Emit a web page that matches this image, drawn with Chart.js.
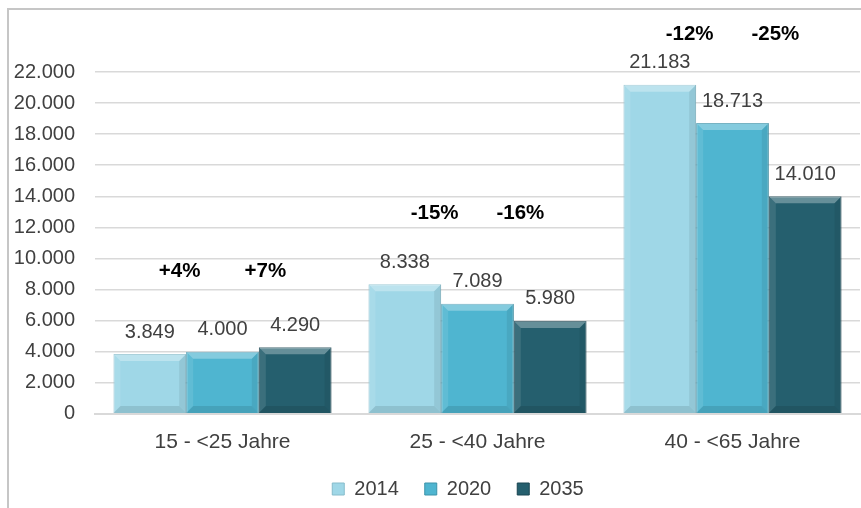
<!DOCTYPE html>
<html>
<head>
<meta charset="utf-8">
<script src="https://cdn.jsdelivr.net/npm/chart.js@4.4.1/dist/chart.umd.min.js"></script>
<style>
  html, body { margin: 0; padding: 0; background: #fff; }
  #wrap { position: relative; width: 861px; height: 508px; overflow: hidden; }
  #frame { position: absolute; left: 7px; top: 8px; width: 900px; height: 600px;
           border-left: 2px solid #c6c6c6; border-top: 2px solid #c6c6c6; }
  canvas { position: absolute; left: 0; top: 0; }
</style>
</head>
<body>
<div id="wrap">
  <div id="frame"></div>
  <canvas id="chart" width="861" height="531"></canvas>
</div>
<script>
// data
const categories = ["15 - <25 Jahre", "25 - <40 Jahre", "40 - <65 Jahre"];
const years = ["2014", "2020", "2035"];
const values2014 = [3849, 8338, 21183];
const values2020 = [4000, 7089, 18713];
const values2035 = [4290, 5980, 14010];
const change2020 = ["+4%", "-15%", "-12%"];
const change2035 = ["+7%", "-16%", "-25%"];
const changeLevel = [9200, 12900, 24400];   // where the % labels sit (value units)
const yTicks = [0, 2000, 4000, 6000, 8000, 10000, 12000, 14000, 16000, 18000, 20000, 22000];

const colors = ["#9fd7e7", "#4fb5d0", "#255f6e"];
const FONT = "'Liberation Sans', Arial, sans-serif";

function fmt(v) {
  return String(v).replace(/\B(?=(\d{3})+(?!\d))/g, ".");
}

// move the legend a bit (labels.padding also sets the gap between items)
const legendShift = {
  id: 'legendShift',
  afterLayout(chart) {
    const lg = chart.legend;
    lg.top -= 18; lg.bottom -= 18;
    lg.left += 23; lg.right += 23;
  }
};

// bevelled look of the bars + labels
const bevelPlugin = {
  id: 'bevel',
  afterDatasetsDraw(chart) {
    const ctx = chart.ctx;
    chart.data.datasets.forEach((ds, di) => {
      chart.getDatasetMeta(di).data.forEach((bar) => {
        const w = bar.width, l = bar.x - w / 2, r = bar.x + w / 2;
        const t = bar.y, b = bar.base, k = 7;
        ctx.save();
        ctx.fillStyle = 'rgba(255,255,255,0.30)';
        ctx.beginPath();
        ctx.moveTo(l, t); ctx.lineTo(r, t); ctx.lineTo(r - k, t + k); ctx.lineTo(l + k, t + k);
        ctx.closePath(); ctx.fill();
        ctx.fillStyle = 'rgba(255,255,255,0.10)';
        ctx.beginPath();
        ctx.moveTo(l, t); ctx.lineTo(l + k, t + k); ctx.lineTo(l + k, b - k); ctx.lineTo(l, b);
        ctx.closePath(); ctx.fill();
        ctx.fillStyle = 'rgba(0,0,0,0.07)';
        ctx.beginPath();
        ctx.moveTo(r, t); ctx.lineTo(r - k, t + k); ctx.lineTo(r - k, b - k); ctx.lineTo(r, b);
        ctx.closePath(); ctx.fill();
        ctx.fillStyle = 'rgba(0,0,0,0.10)';
        ctx.beginPath();
        ctx.moveTo(l, b); ctx.lineTo(l + k, b - k); ctx.lineTo(r - k, b - k); ctx.lineTo(r, b);
        ctx.closePath(); ctx.fill();
        ctx.restore();
      });
    });

    // value labels
    ctx.save();
    ctx.font = '20px ' + FONT;
    ctx.fillStyle = '#404040';
    ctx.textAlign = 'center';
    ctx.textBaseline = 'middle';
    chart.data.datasets.forEach((ds, di) => {
      chart.getDatasetMeta(di).data.forEach((bar, i) => {
        ctx.fillText(fmt(ds.data[i]), bar.x, bar.y - 22);
      });
    });

    // change labels
    const ys = chart.scales.y;
    ctx.font = 'bold 20.5px ' + FONT;
    ctx.fillStyle = '#000';
    const m1 = chart.getDatasetMeta(1).data, m2 = chart.getDatasetMeta(2).data;
    categories.forEach((c, i) => {
      const y = ys.getPixelForValue(changeLevel[i]);
      ctx.fillText(change2020[i], m1[i].x - m1[i].width * 0.59, y);
      ctx.fillText(change2035[i], m2[i].x - m2[i].width * 0.41, y);
    });
    ctx.restore();
  }
};

new Chart(document.getElementById('chart'), {
  type: 'bar',
  data: {
    labels: categories,
    datasets: [
      { label: years[0], data: values2014, backgroundColor: colors[0], borderColor: '#86bccb', borderWidth: 1 },
      { label: years[1], data: values2020, backgroundColor: colors[1], borderColor: '#3d93aa', borderWidth: 1 },
      { label: years[2], data: values2035, backgroundColor: colors[2], borderColor: '#1b4652', borderWidth: 1 }
    ]
  },
  options: {
    responsive: false,
    animation: false,
    events: [],
    layout: { padding: { left: 10, right: 1, top: 72, bottom: 4 } },
    datasets: { bar: { categoryPercentage: 0.855, barPercentage: 1.0 } },
    scales: {
      x: {
        grid: { display: false, drawTicks: false },
        border: { display: true, color: '#d9d9d9', width: 2 },
        ticks: { color: '#404040', font: { family: FONT, size: 21 }, padding: 16 }
      },
      y: {
        min: 0, max: 22000,
        afterFit(scale) { scale.width = 85; },
        afterBuildTicks(scale) { scale.ticks = yTicks.map(v => ({ value: v })); },
        grid: { color: '#d9d9d9', lineWidth: 1.5, drawTicks: false },
        border: { display: false },
        ticks: {
          color: '#404040', padding: 20,
          font: { family: FONT, size: 20 },
          callback: (v) => fmt(v)
        }
      }
    },
    plugins: {
      legend: {
        position: 'bottom',
        labels: {
          color: '#404040', boxWidth: 12, boxHeight: 12, padding: 26,
          font: { family: FONT, size: 20 }
        }
      },
      tooltip: { enabled: false }
    }
  },
  plugins: [legendShift, bevelPlugin]
});
</script>
</body>
</html>
